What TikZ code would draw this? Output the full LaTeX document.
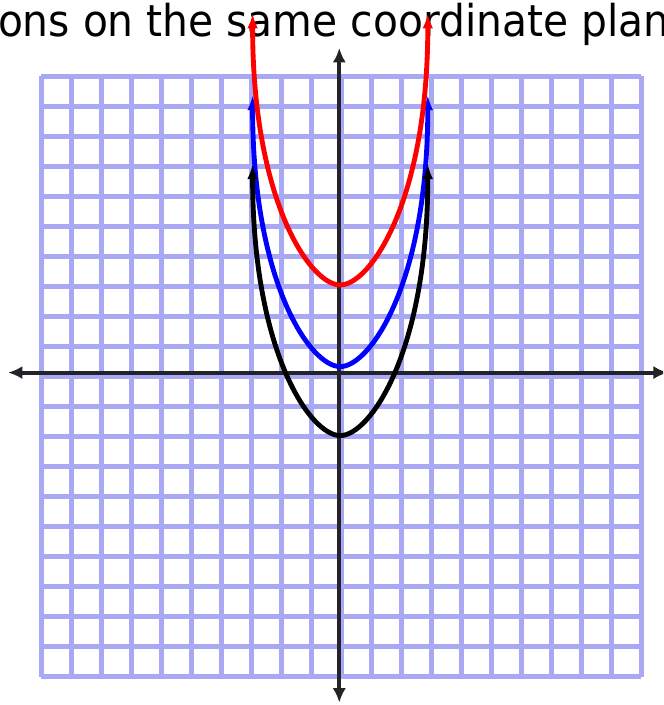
\documentclass[tikz,border=0pt]{standalone}
\usepackage{fontspec}
\newfontfamily\titlefont[FakeStretch=0.93]{DejaVu Sans}
\usepackage{xcolor}
\usepackage{tikz}
\usetikzlibrary{arrows.meta}

\definecolor{gridblue}{RGB}{168,168,245}
\definecolor{axisgray}{RGB}{35,35,40}

\begin{document}
\begin{tikzpicture}[
  x=0.5cm, y=0.5cm,
  gridline/.style={draw=gridblue, line width=2.4pt},
  axis/.style={axisgray, line width=1.9pt,
               {Latex[length=2.4mm,width=2.2mm]}-{Latex[length=2.4mm,width=2.2mm]}},
  curve/.style={line width=2.3pt,
                {Latex[length=2.5mm,width=1.8mm]}-{Latex[length=2.5mm,width=1.8mm]}},
  title/.style={font=\titlefont\fontsize{20.8pt}{24pt}\selectfont,
                anchor=base west, inner sep=0pt},
]
\useasboundingbox (-11.31,-11.08) rectangle (10.79,12.42);
\clip (-11.31,-11.08) rectangle (10.79,12.42);
\fill[white] (-11.31,-11.08) rectangle (10.79,12.42);

% ---------------- heading (cut by the frame) ----------------
\node[title] (title) at (-11.39,11.19) {ons on the same coordinate plan};

% ---------------- grid and axes ----------------
\draw[gridline, step=1, shift={(0.07,-0.13)}] (-10,-10) grid (10,10);
\draw[axis] (-11.04,0) -- (10.95,0);
\draw[axis] (0,-11.0) -- (0,10.82);

% ---------------- U curves: vertex height / colour ----------------
\foreach \v/\col in {0.2/blue, -2.1/black, 2.92/red}
  \draw[curve, \col] (-2.89,{\v+9.05}) .. controls (-2.89,{\v+2.8}) and (-0.97,\v)
    .. (0.03,\v) .. controls (1.03,\v) and (2.95,{\v+2.8}) .. (2.95,{\v+9.05});
\end{tikzpicture}
\end{document}
